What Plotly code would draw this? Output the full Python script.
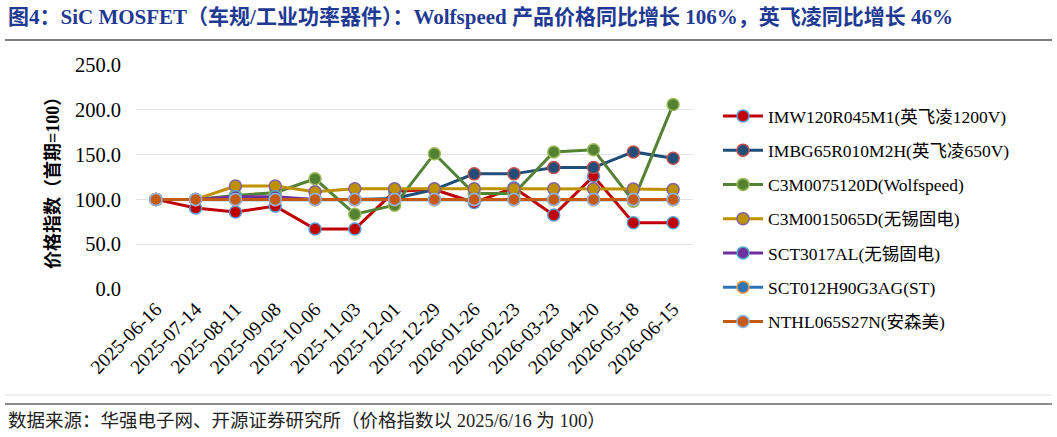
import plotly.graph_objects as go

dates = ["2025-06-16", "2025-07-14", "2025-08-11", "2025-09-08", "2025-10-06", "2025-11-03",
         "2025-12-01", "2025-12-29", "2026-01-26", "2026-02-23", "2026-03-23", "2026-04-20",
         "2026-05-18", "2026-06-15"]

imw120 = [100, 90.5, 86, 92.5, 67, 67, 109, 111, 96.5, 113, 82.5, 126, 74, 74]
imbg65 = [100, 100, 100, 100, 100, 100, 101, 111, 128.5, 128.5, 135.5, 135.5, 153, 146]
c3m75 = [100, 100, 104.5, 107.5, 123, 83.5, 93.5, 151, 106.5, 106.5, 153, 155.5, 98, 206]
c3m15 = [100, 100, 115, 115, 108.5, 112, 112, 112, 112, 112, 112, 112, 111.5, 111]
sct3017 = [100, 100, 103, 103, 100, 100, 100, 100, 100, 100, 100, 100, 100, 100]
sct012 = [100, 99.5, 99.5, 99.5, 99.5, 99.5, 99.5, 99.5, 99.5, 99.5, 99.5, 99.5, 99.5, 99.5]
nthl065 = [100] * 14

series_names = ["IMW120R045M1(英飞凌1200V)", "IMBG65R010M2H(英飞凌650V)", "C3M0075120D(Wolfspeed)",
                "C3M0015065D(无锡固电)", "SCT3017AL(无锡固电)", "SCT012H90G3AG(ST)", "NTHL065S27N(安森美)"]
series_values = [imw120, imbg65, c3m75, c3m15, sct3017, sct012, nthl065]
line_colors = ["#C00000", "#1F4E79", "#548235", "#BF9000", "#7030A0", "#2E75B6", "#C55A11"]
marker_edges = ["#5B9BD5", "#C0504D", "#9BBB59", "#8064A2", "#4BACC6", "#F79646", "#8EB4E3"]

y_ticks = [0, 50, 100, 150, 200, 250]
y_tick_text = ["0.0", "50.0", "100.0", "150.0", "200.0", "250.0"]

SERIF = "Liberation Serif, 'Times New Roman', 'Noto Sans CJK SC', serif"

# plot area in pixels
L, R, T, B = 136, 693, 65, 289
W, H = 1057, 437


def px(x):
    return (x - L) / (R - L)


def py(y):
    return (B - y) / (B - T)


fig = go.Figure()
for i, (name, vals) in enumerate(zip(series_names, series_values)):
    fig.add_trace(go.Scatter(
        x=dates, y=vals, name=name, mode="lines+markers",
        legendgroup=f"g{i}",
        line=dict(color=line_colors[i], width=3),
        marker=dict(size=12, color=line_colors[i], line=dict(color=marker_edges[i], width=1.5)),
    ))

fig.update_layout(
    width=W, height=H,
    margin=dict(l=L, r=W - R, t=T, b=H - B),
    plot_bgcolor="white", paper_bgcolor="white",
    font=dict(family=SERIF, color="#000000"),
    showlegend=True,
    legend=dict(
        x=px(718), y=py(98), xanchor="left", yanchor="top",
        font=dict(family=SERIF, size=17.5, color="#000000"),
        traceorder="grouped", tracegroupgap=8.5,
        itemwidth=40, maxheight=330,
        bgcolor="rgba(0,0,0,0)",
    ),
    xaxis=dict(
        type="category", tickangle=-45, showgrid=False, zeroline=False,
        showline=False, ticks="", range=[-0.5, len(dates) - 0.5],
        ticklabelstandoff=4,
        tickfont=dict(family=SERIF, size=19.5, color="#000000"),
    ),
    yaxis=dict(
        range=[0, 250], tickvals=y_ticks, ticktext=y_tick_text,
        showgrid=True, gridcolor="#E3E3E3", gridwidth=1, zeroline=False,
        showline=False, ticks="", ticklabelstandoff=14,
        tickfont=dict(family=SERIF, size=20.5, color="#000000"),
    ),
)

# y-axis title
fig.add_annotation(
    x=px(52), y=py(179), xref="paper", yref="paper", text="<b>价格指数（首期=100）</b>",
    textangle=-90, showarrow=False, font=dict(family=SERIF, size=18, color="#000000"),
    xanchor="center", yanchor="middle",
)

# chart title
fig.add_annotation(
    x=px(6), y=py(17), xref="paper", yref="paper",
    text="<b>图4：SiC MOSFET（车规/工业功率器件）：Wolfspeed 产品价格同比增长 106%，英飞凌同比增长 46%</b>",
    showarrow=False, xanchor="left", yanchor="middle",
    font=dict(family=SERIF, size=21, color="#1F3A93"),
)

# source
fig.add_annotation(
    x=px(6), y=py(421), xref="paper", yref="paper",
    text="数据来源：华强电子网、开源证券研究所（价格指数以 2025/6/16 为 100）",
    showarrow=False, xanchor="left", yanchor="middle",
    font=dict(family=SERIF, size=18.5, color="#222222"),
)

# decorative lines
fig.add_shape(type="line", xref="paper", yref="paper", x0=px(5), x1=px(1052), y0=py(40), y1=py(40),
              line=dict(color="#555555", width=1.5))
fig.add_shape(type="line", xref="paper", yref="paper", x0=px(5), x1=px(1052), y0=py(395), y1=py(395),
              line=dict(color="#E0E0E0", width=1))
fig.add_shape(type="line", xref="paper", yref="paper", x0=px(5), x1=px(1052), y0=py(404), y1=py(404),
              line=dict(color="#666666", width=1.5))

fig.write_html("out.html")
